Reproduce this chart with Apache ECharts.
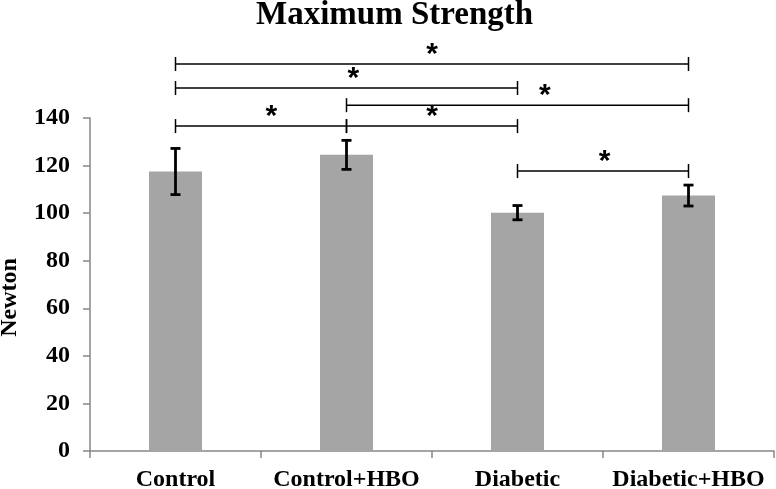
<!DOCTYPE html>
<html>
<head>
<meta charset="utf-8">
<script src="https://cdn.jsdelivr.net/npm/echarts@6/dist/echarts.min.js"></script>
<style>
  html, body { margin: 0; padding: 0; background: #fff; }
  #chart { width: 776px; height: 489px; }
</style>
</head>
<body>
<div id="chart"></div>
<script>
// groups and values
var groups = ['Control', 'Control+HBO', 'Diabetic', 'Diabetic+HBO'];
var means = [117.5, 124.5, 100.2, 107.4];
var errs = [9.7, 6.1, 3.0, 4.4];
var yTicks = [0, 20, 40, 60, 80, 100, 120, 140];

// significance brackets: from group, to group, height (N), where the star sits (0..1 along the line)
var bracketFrom = [0, 0, 1, 0, 1, 2];
var bracketTo = [3, 2, 3, 1, 2, 3];
var bracketLevel = [162.7, 152.6, 145.4, 136.6, 136.6, 117.7];
var starAt = [0.5, 0.52, 0.58, 0.56, 0.5, 0.51];

var serif = '"Liberation Serif", "Times New Roman", serif';

var errData = [];
for (var i = 0; i < groups.length; i++) {
    errData.push([i, means[i] - errs[i], means[i] + errs[i]]);
}
var bracketData = [];
for (var j = 0; j < bracketFrom.length; j++) {
    bracketData.push([bracketFrom[j], bracketTo[j], bracketLevel[j], starAt[j]]);
}

var myChart = echarts.init(document.getElementById('chart'));
var option = {
    animation: false,
    title: {
        text: 'Maximum Strength',
        left: 251,
        top: -6,
        textStyle: { fontFamily: serif, fontWeight: 'bold', fontSize: 33, color: '#000' }
    },
    grid: { left: 90, right: 2, top: 118, bottom: 38, outerBoundsMode: 'none' },
    xAxis: {
        type: 'category',
        data: groups,
        axisLine: { lineStyle: { color: '#868686', width: 1.5 } },
        axisTick: { show: true, interval: 0, length: 7, lineStyle: { color: '#868686', width: 1.5 } },
        axisLabel: {
            interval: 0,
            hideOverlap: false,
            margin: 17,
            fontFamily: serif, fontWeight: 'bold', fontSize: 24, color: '#000'
        }
    },
    yAxis: {
        type: 'value',
        min: yTicks[0],
        max: yTicks[yTicks.length - 1],
        interval: 20,
        name: 'Newton',
        nameLocation: 'middle',
        nameGap: 68,
        nameTextStyle: {
            fontFamily: serif, fontWeight: 'bold', fontSize: 24, color: '#000',
            padding: [0, 26, 0, 0]
        },
        axisLine: { show: true, lineStyle: { color: '#868686', width: 1.5 } },
        axisTick: { show: true, length: 7, lineStyle: { color: '#868686', width: 1.5 } },
        splitLine: { show: false },
        axisLabel: {
            margin: 20,
            fontFamily: serif, fontWeight: 'bold', fontSize: 24, color: '#000'
        }
    },
    series: [
        {
            type: 'bar',
            data: means,
            barWidth: '31%',
            itemStyle: { color: '#a5a5a5' }
        },
        {
            // error bars
            type: 'custom',
            clip: false,
            z: 5,
            data: errData,
            encode: { x: 0, y: [1, 2] },
            renderItem: function (params, api) {
                var lo = api.coord([api.value(0), api.value(1)]);
                var hi = api.coord([api.value(0), api.value(2)]);
                var half = 5;
                var st = { stroke: '#000', lineWidth: 2.8 };
                return {
                    type: 'group',
                    children: [
                        { type: 'line', shape: { x1: hi[0], y1: hi[1], x2: lo[0], y2: lo[1] }, style: st },
                        { type: 'line', shape: { x1: hi[0] - half, y1: hi[1], x2: hi[0] + half, y2: hi[1] }, style: st },
                        { type: 'line', shape: { x1: lo[0] - half, y1: lo[1], x2: lo[0] + half, y2: lo[1] }, style: st }
                    ]
                };
            }
        },
        {
            // significance brackets with stars
            type: 'custom',
            clip: false,
            z: 5,
            data: bracketData,
            encode: { x: [0, 1], y: 2 },
            renderItem: function (params, api) {
                var a = api.coord([api.value(0), api.value(2)]);
                var b = api.coord([api.value(1), api.value(2)]);
                var t = api.value(3);
                var tk = 7;
                var st = { stroke: '#000', lineWidth: 1.5 };
                return {
                    type: 'group',
                    children: [
                        { type: 'line', shape: { x1: a[0], y1: a[1], x2: b[0], y2: b[1] }, style: st },
                        { type: 'line', shape: { x1: a[0], y1: a[1] - tk, x2: a[0], y2: a[1] + tk }, style: st },
                        { type: 'line', shape: { x1: b[0], y1: b[1] - tk, x2: b[0], y2: b[1] + tk }, style: st },
                        {
                            type: 'text',
                            x: a[0] + (b[0] - a[0]) * t,
                            y: a[1] + 6,
                            style: {
                                text: '*',
                                fill: '#000',
                                font: 'bold 30px "Liberation Sans", Arial, sans-serif',
                                align: 'center',
                                verticalAlign: 'bottom'
                            }
                        }
                    ]
                };
            }
        }
    ]
};
myChart.setOption(option);
</script>
</body>
</html>
